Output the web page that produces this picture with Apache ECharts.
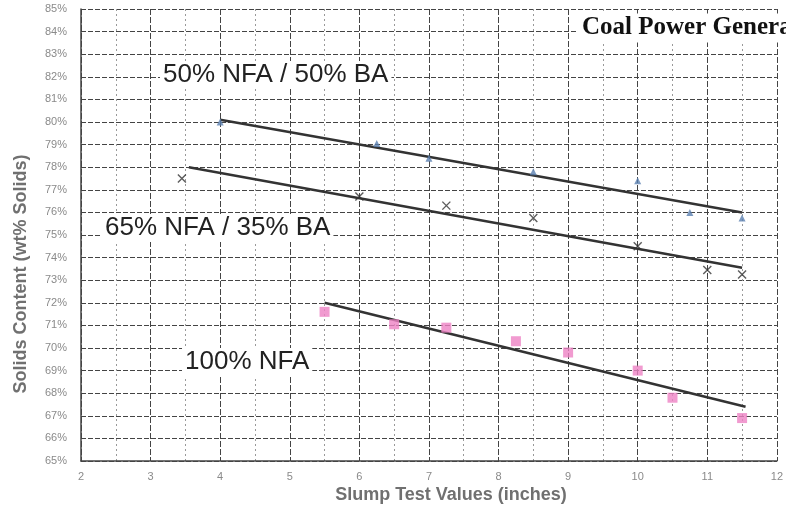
<!DOCTYPE html>
<html>
<head>
<meta charset="utf-8">
<script src="https://cdn.jsdelivr.net/npm/echarts@6/dist/echarts.min.js"></script>
<style>
  html, body { margin: 0; padding: 0; background: #fff; }
  #chart { width: 786px; height: 509px; }
</style>
</head>
<body>
<div id="chart"></div>
<script>
/** slump test readings (inches) vs solids content (%) */
const xTicks = [2, 3, 4, 5, 6, 7, 8, 9, 10, 11, 12];

const ba50X = [4.0, 6.25, 7.0, 8.5, 10.0, 10.75, 11.5];
const ba50Y = [80.0, 79.05, 78.4, 77.8, 77.4, 76.0, 75.75];

const ba35X = [3.45, 6.0, 7.25, 8.5, 10.0, 11.0, 11.5];
const ba35Y = [77.5, 76.7, 76.3, 75.75, 74.5, 73.45, 73.25];

const nfaX = [5.5, 6.5, 7.25, 8.25, 9.0, 10.0, 10.5, 11.5];
const nfaY = [71.6, 71.05, 70.9, 70.3, 69.8, 69.0, 67.8, 66.9];

/** fitted trend lines, end points */
const trend50 = [[4.0, 80.1], [11.5, 76.0]];
const trend35 = [[3.55, 78.0], [11.5, 73.55]];
const trendNfa = [[5.5, 72.0], [11.55, 67.4]];

const zip = (xs, ys) => xs.map((x, i) => [x, ys[i]]);

const labelStyle = {
  color: "#8a8a8a",
  fontSize: 11,
  fontFamily: "Liberation Sans, Arial, sans-serif",
};

const trendLine = (data) => ({
  type: "line",
  data,
  symbol: "none",
  silent: true,
  lineStyle: { color: "#333", width: 2.5 },
  z: 3,
});

/** big plain labels sitting on the grid */
const note = (text, x, y) => ({
  type: "text",
  x,
  y,
  z: 10,
  style: {
    text,
    font: "26px 'Liberation Sans', Arial, sans-serif",
    fill: "#222",
    backgroundColor: "#fff",
    padding: [1, 3],
    verticalAlign: "middle",
  },
});

const chart = echarts.init(document.getElementById("chart"), null, {
  renderer: "canvas",
});

chart.setOption({
  backgroundColor: "#fff",
  animation: false,
  grid: { left: 81, right: 7, top: 9, bottom: 48 },

  xAxis: {
    type: "value",
    min: 2,
    max: 12,
    interval: 1,
    axisLine: { show: true, lineStyle: { color: "#444", width: 1.5 } },
    axisTick: { show: false },
    axisLabel: {
      ...labelStyle,
      margin: 10,
      formatter: (v) => (xTicks.includes(v) ? String(v) : ""),
    },
    splitLine: { show: true, lineStyle: { color: "#444", width: 1, type: [6, 2] } },
    minorTick: { show: false, splitNumber: 2 },
    minorSplitLine: { show: true, lineStyle: { color: "#999", width: 1, type: [2, 3] } },
  },

  yAxis: {
    type: "value",
    min: 65,
    max: 85,
    interval: 1,
    axisLine: { show: true, lineStyle: { color: "#444", width: 1.5 } },
    axisTick: { show: false },
    axisLabel: { ...labelStyle, margin: 14, formatter: "{value}%" },
    splitLine: { show: true, lineStyle: { color: "#444", width: 1, type: [5, 2] } },
  },

  graphic: [
    {
      type: "text",
      x: 578,
      y: 28,
      z: 10,
      style: {
        text: "Coal Power Generation",
        font: "bold 25px 'Liberation Serif', 'DejaVu Serif', serif",
        fill: "#111",
        backgroundColor: "#fff",
        padding: [2, 4],
        verticalAlign: "middle",
      },
    },
    note("50% NFA / 50% BA", 160, 75),
    note("65% NFA / 35% BA", 102, 228),
    note("100% NFA", 182, 362),
    {
      type: "text",
      x: 451,
      y: 495,
      style: {
        text: "Slump Test Values (inches)",
        font: "bold 18px 'Liberation Sans', Arial, sans-serif",
        fill: "#707070",
        align: "center",
        verticalAlign: "middle",
      },
    },
    {
      type: "text",
      x: 21,
      y: 274,
      rotation: Math.PI / 2,
      style: {
        text: "Solids Content (wt% Solids)",
        font: "bold 18px 'Liberation Sans', Arial, sans-serif",
        fill: "#707070",
        align: "center",
        verticalAlign: "middle",
      },
    },
  ],

  series: [
    trendLine(trend50),
    trendLine(trend35),
    trendLine(trendNfa),
    {
      type: "scatter",
      name: "50% NFA / 50% BA",
      data: zip(ba50X, ba50Y),
      symbol: "triangle",
      symbolSize: 7,
      itemStyle: { color: "#5a7fb0" },
      z: 4,
    },
    {
      type: "scatter",
      name: "65% NFA / 35% BA",
      data: zip(ba35X, ba35Y),
      symbol: "path://M0,0L10,10M10,0L0,10",
      symbolSize: 8,
      itemStyle: { color: "none", borderColor: "#333", borderWidth: 1.4 },
      z: 4,
    },
    {
      type: "scatter",
      name: "100% NFA",
      data: zip(nfaX, nfaY),
      symbol: "rect",
      symbolSize: 10,
      itemStyle: { color: "#ee82c4" },
      z: 4,
    },
  ],
});
</script>
</body>
</html>
